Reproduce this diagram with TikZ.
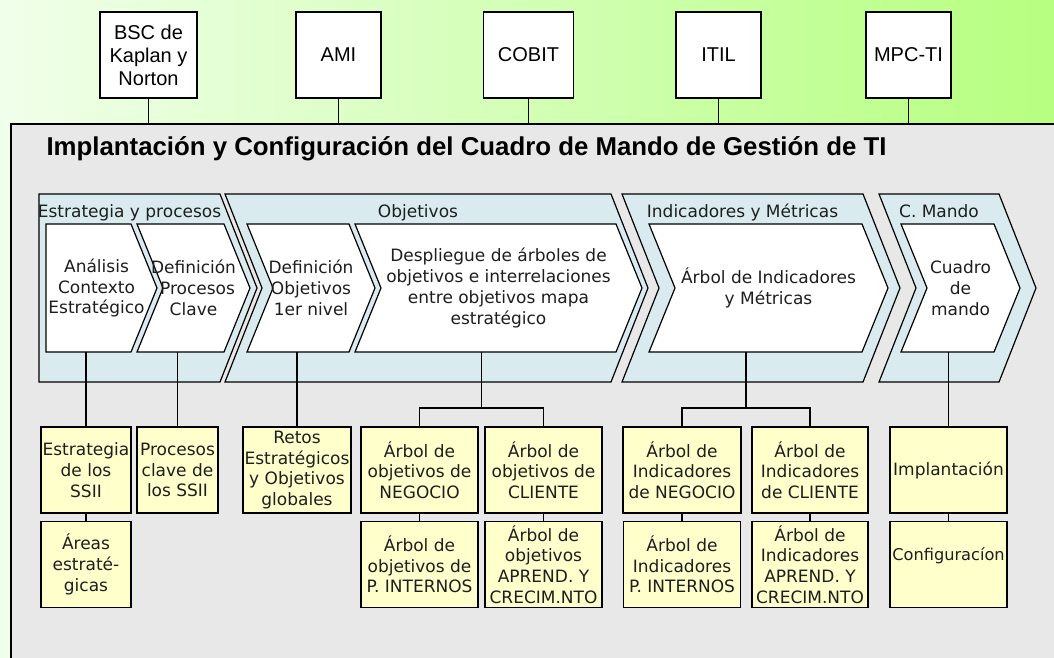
\documentclass[tikz,border=0pt]{standalone}
\usepackage{fontspec}
\setmainfont{Liberation Sans}
\newfontfamily\dejavu{DejaVu Sans}
\usetikzlibrary{positioning,backgrounds}

\definecolor{bgpale}{RGB}{240,255,234}
\definecolor{bggreen}{RGB}{182,255,128}
\definecolor{panelgray}{RGB}{232,232,232}
\definecolor{stageblue}{RGB}{217,235,238}
\definecolor{boxyellow}{RGB}{255,255,204}
\definecolor{inktext}{RGB}{30,30,30}

\tikzset{
  source/.style={draw, fill=white, line width=1.5pt, minimum width=85pt, minimum height=86pt,
                 inner sep=0pt, align=center, font=\fontsize{20}{23}\selectfont},
  stage/.style={minimum height=188pt, inner sep=0pt, outer sep=0pt},
  task/.style={minimum height=128pt, inner sep=0pt, outer sep=0pt, align=center, text=inktext,
               font=\dejavu\fontsize{17}{20.7}\selectfont},
  result/.style={draw, fill=boxyellow, line width=1.5pt, minimum width=117pt, minimum height=86pt,
                 inner sep=0pt, align=center, text=inktext, font=\dejavu\fontsize{17}{20.7}\selectfont},
  link/.style={line width=1.5pt},
}

\begin{document}
\begin{tikzpicture}[x=1pt,y=1pt,on grid,node distance=190pt]
    \useasboundingbox (0,0) rectangle (1054,-657);

    \begin{pgfonlayer}{background}
        \shade[left color=bgpale, right color=bggreen] (0,0) rectangle (1054,-657);
        \node[draw, fill=panelgray, line width=1.5pt, anchor=north west,
              minimum width=1100pt, minimum height=600pt] (panel) at (10,-123) {};

        \node[stage, minimum width=218pt] (estrat) at (148,-288)   {};
        \node[stage, minimum width=423pt] (objet)  at (436.5,-288) {};
        \node[stage, minimum width=278pt] (indic)  at (761,-288)   {};
        \node[stage, minimum width=157pt] (mando)  at (957.5,-288) {};
        \foreach \n/\k in {estrat/0, objet/1, indic/1, mando/1}
            \draw[fill=stageblue, line width=1.2pt] (\n.north west) -- ([xshift=-37pt]\n.north east)
                -- (\n.east) -- ([xshift=-37pt]\n.south east) -- (\n.south west)
                -- ([xshift=\k*37pt]\n.west) -- cycle;
    \end{pgfonlayer}

    % marcos de referencia
    \node[source, minimum width=97pt] (bsc) at (148.5,-55) {BSC de\\Kaplan y\\Norton};
    \node[source]                     (ami)   [right=of bsc]   {AMI};
    \node[source, minimum width=90pt] (cobit) [right=of ami]   {COBIT};
    \node[source]                     (itil)  [right=of cobit] {ITIL};
    \node[source]                     (mpc)   [right=of itil]  {MPC-TI};
    \foreach \s in {bsc,ami,cobit,itil,mpc}
        \draw[link] (\s) -- (\s |- panel.north);

    \node[anchor=base west, font=\bfseries\fontsize{25.8}{30}\selectfont] (title) at (43,-155)
        {Implantación y Configuración del Cuadro de Mando de Gestión de TI};

    \foreach \n/\t in {estrat/Estrategia y procesos, objet/Objetivos, indic/Indicadores y Métricas, mando/C. Mando}
        \node[anchor=base, text=inktext, font=\dejavu\fontsize{17}{20}\selectfont] (\n-lbl)
            at ([xshift=-18.5pt,yshift=-23pt]\n.north) {\t};

    % fases
    \node[task, minimum width=111pt] (analisis)   at (101.5,-288) {\hspace*{-10pt}Análisis\\\hspace*{-10pt}Contexto\\\hspace*{-10pt}Estratégico};
    \node[task, minimum width=113pt] (claves)     at (193.5,-288) {Definición\\\hspace*{8pt}Procesos\\Clave};
    \node[task, minimum width=128pt] (nivel)      at (311,-288)   {Definición\\Objetivos\\1er nivel};
    \node[task, minimum width=287pt] (despliegue) at (498.5,-288)
        {Despliegue de árboles de\\objetivos e interrelaciones\\entre objetivos mapa\\estratégico};
    \node[task, minimum width=239pt] (metricas)   at (768.5,-288) {Árbol de Indicadores\\y Métricas};
    \node[task, minimum width=119pt] (cuadro)     at (960.5,-288) {Cuadro\\de\\mando};

    \begin{pgfonlayer}{background}
        \foreach \n/\k in {analisis/0, claves/1, nivel/1, despliegue/1, metricas/1, cuadro/1}
            \draw[fill=white, line width=1.2pt] (\n.north west) -- ([xshift=-26pt]\n.north east)
                -- (\n.east) -- ([xshift=-26pt]\n.south east) -- (\n.south west)
                -- ([xshift=\k*26pt]\n.west) -- cycle;
    \end{pgfonlayer}

    % resultados
    \node[result, minimum width=90pt]  (estrategia) at (86,-470)    {Estrategia\\de los\\SSII};
    \node[result, minimum width=81pt]  (procesos)   at (177.5,-470) {Procesos\\clave de\\los SSII};
    \node[result, minimum width=108pt] (retos)      at (297,-470)   {Retos\\Estratégicos\\y Objetivos\\globales};
    \node[result]                      (oneg)       at (419.5,-470) {Árbol de\\objetivos de\\NEGOCIO};
    \node[result]                      (ocli)       at (543.5,-470) {Árbol de\\objetivos de\\CLIENTE};
    \node[result, minimum width=118pt] (ineg)       at (682,-470)   {Árbol de\\Indicadores\\de NEGOCIO};
    \node[result, minimum width=116pt] (icli)       at (810,-470)   {Árbol de\\Indicadores\\de CLIENTE};
    \node[result]                      (impl)       at (948.5,-470) {Implantación};

    \node[result, minimum width=90pt]  (areas) [below=94.5pt of estrategia] {Áreas\\estraté-\\gicas};
    \node[result]                      (oint)  [below=94.5pt of oneg] {Árbol de\\objetivos de\\P. INTERNOS};
    \node[result]                      (oapr)  [below=94.5pt of ocli] {Árbol de\\objetivos\\APREND. Y\\CRECIM.NTO};
    \node[result]                      (iint)  [below=94.5pt of ineg] {Árbol de\\Indicadores\\P. INTERNOS};
    \node[result, minimum width=116pt] (iapr)  [below=94.5pt of icli] {Árbol de\\Indicadores\\APREND. Y\\CRECIM.NTO};
    \node[result, font=\dejavu\fontsize{16.2}{20.7}\selectfont] (conf) [below=94.5pt of impl]
        {\makebox[117pt][c]{Configuracíon}\\~};

    \coordinate (desfork) at (481.5,-408);
    \coordinate (indfork) at (746,-408);

    \draw[link] (estrategia.north) -- (estrategia.north |- analisis.south);
    \draw[link] (procesos.north) -- (procesos.north |- claves.south);
    \draw[link] (retos.north) -- (retos.north |- nivel.south);
    \draw[link] (oneg.north) |- (desfork) -| (ocli.north);
    \draw[link] (desfork) -- (desfork |- despliegue.south);
    \draw[link] (ineg.north) |- (indfork) -| (icli.north);
    \draw[link] (indfork) -- (indfork |- metricas.south);
    \draw[link] (impl.north) -- (impl.north |- cuadro.south);

    \draw[link] (estrategia) -- (areas);
    \draw[link] (oneg) -- (oint);
    \draw[link] (ocli) -- (oapr);
    \draw[link] (ineg) -- (iint);
    \draw[link] (icli) -- (iapr);
    \draw[link] (impl) -- (conf);
\end{tikzpicture}
\end{document}
